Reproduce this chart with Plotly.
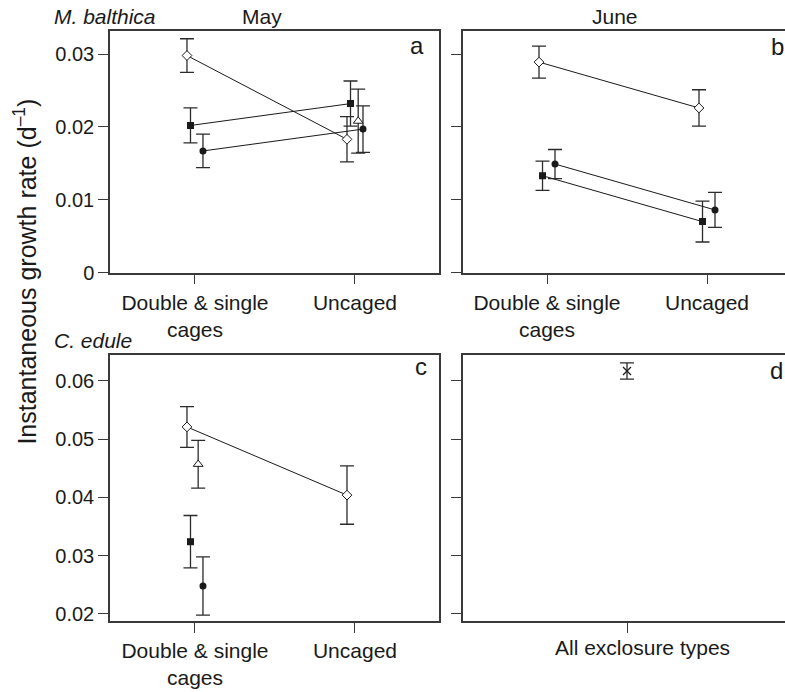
import plotly.graph_objects as go

W, H = 785, 692

# Treatment categories (x = 1, 2) and single-category panel d
categories = ["Double & single<br>cages", "Uncaged"]
category_d = "All exclosure types"

# Panel a: M. balthica, May (Double & single cages, Uncaged)
a_diamond = [0.0298, 0.0183]
a_diamond_err = [0.0023, 0.0031]
a_square = [0.0202, 0.0232]
a_square_err = [0.0024, 0.0031]
a_circle = [0.0167, 0.0197]
a_circle_err = [0.0023, 0.0032]
a_triangle = [None, 0.0208]
a_triangle_err = [None, 0.0044]

# Panel b: M. balthica, June
b_diamond = [0.0289, 0.0226]
b_diamond_err = [0.0022, 0.0025]
b_square = [0.0133, 0.0070]
b_square_err = [0.0020, 0.0028]
b_circle = [0.0149, 0.0086]
b_circle_err = [0.0020, 0.0024]

# Panel c: C. edule, May
c_diamond = [0.0521, 0.0404]
c_diamond_err = [0.0035, 0.0050]
c_triangle = [0.0457, None]
c_triangle_err = [0.0041, None]
c_square = [0.0324, None]
c_square_err = [0.0045, None]
c_circle = [0.0248, None]
c_circle_err = [0.0050, None]

# Panel d: C. edule, June (all exclosure types pooled)
d_cross = [0.0617]
d_cross_err = [0.0014]

y_ticks_top = [0, 0.01, 0.02, 0.03]
y_ticklabels_top = ["0", "0.01", "0.02", "0.03"]
y_ticks_bottom = [0.02, 0.03, 0.04, 0.05, 0.06]
y_ticklabels_bottom = ["0.02", "0.03", "0.04", "0.05", "0.06"]

FONT = "Liberation Sans, Arial, Helvetica, sans-serif"
INK = "#1a1a1a"
AXIS = "#3a3a3a"

# horizontal dodge of each symbol around its category
dodge = {"diamond": -0.05, "square": -0.028, "triangle": 0.02, "circle": 0.05}
symbols = {
    "diamond": dict(symbol="diamond", size=7.5, color="white", line=dict(color=INK, width=1)),
    "square": dict(symbol="square", size=7, color=INK, line=dict(color=INK, width=0)),
    "triangle": dict(symbol="triangle-up", size=8.5, color="white", line=dict(color=INK, width=1)),
    "circle": dict(symbol="circle", size=7, color=INK, line=dict(color=INK, width=0)),
}

fig = go.Figure()


def add_series(kind, values, errors, xa, ya, connect=True):
    xs, ys, es = [], [], []
    for i, (v, e) in enumerate(zip(values, errors)):
        if v is None:
            continue
        xs.append(i + 1 + dodge[kind])
        ys.append(v)
        es.append(e)
    fig.add_trace(go.Scatter(
        x=xs, y=ys, xaxis=xa, yaxis=ya,
        mode="lines+markers" if (connect and len(xs) > 1) else "markers",
        line=dict(color=INK, width=1),
        marker=symbols[kind],
        error_y=dict(type="data", array=es, visible=True, color="#2b2b2b",
                     thickness=1.3, width=7),
        showlegend=False, hoverinfo="skip",
    ))


# panel a
add_series("diamond", a_diamond, a_diamond_err, "x", "y")
add_series("square", a_square, a_square_err, "x", "y")
add_series("triangle", a_triangle, a_triangle_err, "x", "y")
add_series("circle", a_circle, a_circle_err, "x", "y")
# panel b
add_series("diamond", b_diamond, b_diamond_err, "x2", "y2")
add_series("square", b_square, b_square_err, "x2", "y2")
add_series("circle", b_circle, b_circle_err, "x2", "y2")
# panel c
add_series("diamond", c_diamond, c_diamond_err, "x3", "y3")
add_series("triangle", c_triangle, c_triangle_err, "x3", "y3")
add_series("square", c_square, c_square_err, "x3", "y3")
add_series("circle", c_circle, c_circle_err, "x3", "y3")
# panel d
fig.add_trace(go.Scatter(
    x=[1], y=d_cross, xaxis="x4", yaxis="y4", mode="markers",
    marker=dict(symbol="x-thin", size=8, line=dict(color=INK, width=1.2)),
    error_y=dict(type="data", array=d_cross_err, visible=True, color="#2b2b2b",
                 thickness=1.3, width=7),
    showlegend=False, hoverinfo="skip",
))


def px_x(p):
    return p / W


def px_y(p):
    return 1 - p / H


left_dom = [px_x(110), px_x(439)]
right_dom = [px_x(463), 1.0]
top_dom = [px_y(277), px_y(32)]
bot_dom = [px_y(631), px_y(361)]

ytickfont = dict(family=FONT, size=20, color=INK)
xtickfont = dict(family=FONT, size=21, color=INK)

common_x = dict(showline=True, linecolor=AXIS, linewidth=1.5, ticks="outside",
                ticklen=10, tickwidth=1.3, tickcolor=AXIS, showgrid=False,
                zeroline=False, tickfont=xtickfont, fixedrange=True)
common_y = dict(showline=True, linecolor=AXIS, linewidth=1.5, ticks="outside",
                ticklen=10, tickwidth=1.3, tickcolor=AXIS, showgrid=False,
                zeroline=False, tickfont=ytickfont, fixedrange=True)

fig.update_layout(
    width=W, height=H,
    margin=dict(l=0, r=0, t=0, b=0),
    paper_bgcolor="white", plot_bgcolor="white",
    font=dict(family=FONT, color=INK),
    xaxis=dict(common_x, domain=left_dom, anchor="y", range=[0.469, 2.525],
               tickvals=[1, 2], ticktext=categories, mirror=True),
    yaxis=dict(common_y, domain=top_dom, anchor="x", range=[0, 0.0331],
               tickvals=y_ticks_top, ticktext=y_ticklabels_top, mirror=True),
    xaxis2=dict(common_x, domain=right_dom, anchor="y2", range=[0.475, 2.4875],
                tickvals=[1, 2], ticktext=categories, mirror=True),
    yaxis2=dict(common_y, domain=top_dom, anchor="x2", range=[0, 0.0331],
                tickvals=y_ticks_top, showticklabels=False),
    xaxis3=dict(common_x, domain=left_dom, anchor="y3", range=[0.469, 2.525],
                tickvals=[1, 2], ticktext=categories, mirror=True),
    yaxis3=dict(common_y, domain=bot_dom, anchor="x3", range=[0.0188, 0.0644],
                tickvals=y_ticks_bottom, ticktext=y_ticklabels_bottom, mirror=True),
    xaxis4=dict(common_x, domain=right_dom, anchor="y4", range=[-0.025, 1.9875],
                tickvals=[1], showticklabels=False, mirror=True),
    yaxis4=dict(common_y, domain=bot_dom, anchor="x4", range=[0.0188, 0.0644],
                tickvals=y_ticks_bottom, showticklabels=False),
)

annotations = [
    dict(text="<i>M. balthica</i>", x=px_x(52), y=px_y(17), xanchor="left", size=21),
    dict(text="May", x=px_x(262), y=px_y(17), xanchor="center", size=21),
    dict(text="June", x=px_x(615), y=px_y(17), xanchor="center", size=21),
    dict(text="<i>C. edule</i>", x=px_x(52), y=px_y(346), xanchor="left", size=21),
    dict(text="a", x=px_x(417), y=px_y(46), xanchor="center", size=24),
    dict(text="b", x=px_x(777), y=px_y(47), xanchor="center", size=24),
    dict(text="c", x=px_x(421), y=px_y(372), xanchor="center", size=24),
    dict(text="d", x=px_x(776), y=px_y(376), xanchor="center", size=24),
    dict(text=category_d, x=px_x(642), y=px_y(658), xanchor="center", size=21),
]
for a in annotations:
    fig.add_annotation(text=a["text"], x=a["x"], y=a["y"], xref="paper", yref="paper",
                       xanchor=a["xanchor"], yanchor="middle", showarrow=False,
                       font=dict(family=FONT, size=a["size"], color=INK))

fig.add_annotation(text="Instantaneous growth rate (d<sup>–1</sup>)",
                   x=px_x(25), y=px_y(276), xref="paper", yref="paper",
                   xanchor="center", yanchor="middle", textangle=-90, showarrow=False,
                   font=dict(family=FONT, size=25, color=INK))

fig.write_html("out.html")
